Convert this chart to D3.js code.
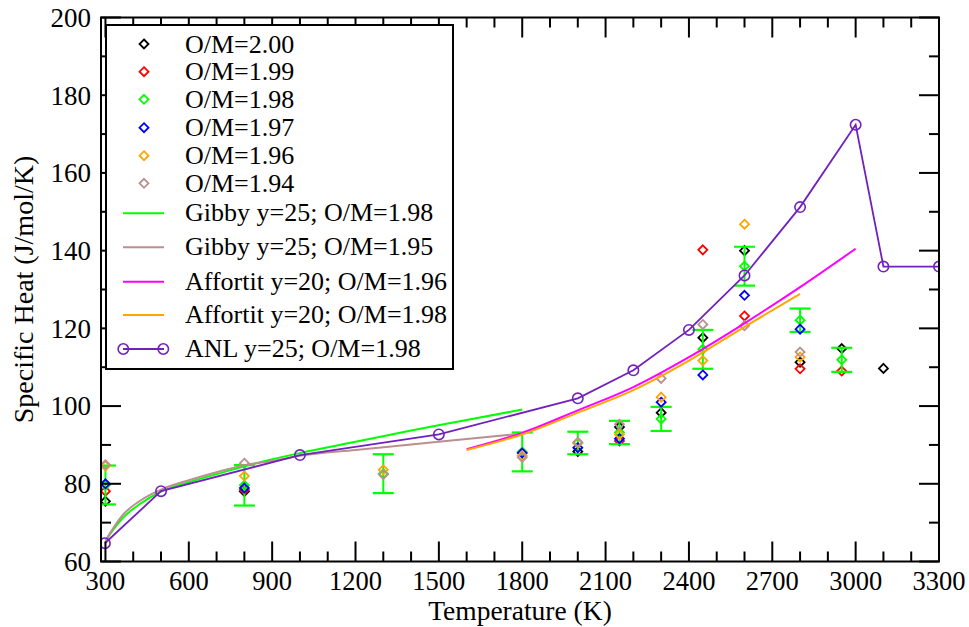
<!DOCTYPE html>
<html><head><meta charset="utf-8">
<script src="https://cdn.jsdelivr.net/npm/d3@7"></script>
<style>body{margin:0;background:#fff} svg{display:block}</style>
</head><body>
<svg id="chart" width="969" height="627"></svg>
<script>
// ---- data ----
const temps = [300, 800, 1300, 1800, 2000, 2150, 2300, 2450, 2600, 2800, 2950, 3100];
const om200 = [75.5, 78.0, null, null, 88.3, 94.6, 98.3, 117.6, 140.0, 111.3, 114.8, 109.7];
const om199 = [78.1, 78.4, null, null, null, 91.0, null, 140.2, 123.2, 109.6, 109.0, null];
const om198 = [79.7, 79.6, 82.6, 88.2, 90.5, 93.2, 96.7, 114.6, 136.0, 122.1, 111.9, null];
const om198Err = [5.0, 5.2, 5.0, 5.0, 2.9, 3.0, 3.1, 5.0, 5.0, 3.0, 3.1, null];
const om197 = [80.0, 78.9, null, 87.9, 89.3, 91.6, 101.0, 108.0, 128.5, 119.8, null, null];
const om196 = [84.6, 82.0, 83.6, 87.2, 90.5, 92.7, 102.3, 111.7, 146.8, 112.6, null, null];
const om194 = [84.9, 85.3, 82.4, 86.8, 90.7, 95.3, 107.1, 121.0, 120.7, 113.9, null, null];

const gibby198T = [300, 364, 426, 500, 609, 726, 800, 894, 1000, 1200, 1400, 1600, 1800];
const gibby198V = [65.4, 71.3, 74.9, 78.0, 80.6, 83.0, 84.5, 86.2, 87.9, 90.8, 93.7, 96.4, 99.1];
const gibby195T = [300, 364, 426, 500, 609, 726, 800, 894, 1000, 1200, 1400, 1600, 1800];
const gibby195V = [65.4, 72.1, 75.7, 78.5, 81.1, 83.5, 84.8, 85.8, 87.2, 88.7, 90.1, 91.5, 92.9];
const affortit196T = [1600, 1800, 2000, 2200, 2400, 2600, 2800, 3000];
const affortit196V = [88.9, 93.1, 98.9, 104.9, 112.6, 121.3, 130.6, 140.5];
const affortit198T = [1600, 1800, 2000, 2200, 2400, 2600, 2800];
const affortit198V = [88.7, 92.7, 98.3, 104.1, 111.7, 120.4, 128.9];
const anlT = [298, 500, 1000, 1500, 2000, 2200, 2400, 2600, 2800, 3000, 3100, 3300];
const anlV = [64.7, 78.1, 87.4, 92.7, 102.0, 109.2, 119.6, 133.6, 151.2, 172.4, 135.9, 135.9];

const xMajorTicks = [300, 600, 900, 1200, 1500, 1800, 2100, 2400, 2700, 3000, 3300];
const yMajorTicks = [60, 80, 100, 120, 140, 160, 180, 200];

const scatterSeries = [
  {name: "O/M=2.00", vals: om200, color: "#000000"},
  {name: "O/M=1.99", vals: om199, color: "#ff0000"},
  {name: "O/M=1.98", vals: om198, color: "#00ff00", err: om198Err},
  {name: "O/M=1.97", vals: om197, color: "#0000ff"},
  {name: "O/M=1.96", vals: om196, color: "#ffa500"},
  {name: "O/M=1.94", vals: om194, color: "#bc8f8f"}
];
const lineSeries = [
  {name: "Gibby y=25; O/M=1.98", t: gibby198T, v: gibby198V, color: "#00ff00"},
  {name: "Gibby y=25; O/M=1.95", t: gibby195T, v: gibby195V, color: "#bc8f8f"},
  {name: "Affortit y=20; O/M=1.96", t: affortit196T, v: affortit196V, color: "#ff00ff"},
  {name: "Affortit y=20; O/M=1.98", t: affortit198T, v: affortit198V, color: "#ffa500"},
  {name: "ANL y=25; O/M=1.98", t: anlT, v: anlV, color: "#7221bc", circles: true}
];

// ---- layout ----
const FONT = "'Liberation Serif','Times New Roman',Times,serif";
const L = 101, R = 939, T = 17.5, B = 561.5;
const x = d3.scaleLinear().domain([284, 3300]).range([L, R]);
const y = d3.scaleLinear().domain([60, 200]).range([B, T]);

const svg = d3.select("#chart");
svg.append("rect").attr("width", 969).attr("height", 627).attr("fill", "#fff");

svg.append("clipPath").attr("id", "plotclip")
  .append("rect").attr("x", L).attr("y", T).attr("width", R - L).attr("height", B - T);

const plot = svg.append("g").attr("clip-path", "url(#plotclip)");

function diamond(g, cx, cy, color, s) {
  g.append("path")
    .attr("d", `M${cx},${cy - s}L${cx + s},${cy}L${cx},${cy + s}L${cx - s},${cy}Z`)
    .attr("fill", "none").attr("stroke", color).attr("stroke-width", 1.8);
}

// scatter series
scatterSeries.forEach(s => {
  const g = plot.append("g");
  temps.forEach((t, i) => {
    const v = s.vals[i];
    if (v == null) return;
    if (s.err && s.err[i] != null) {
      const e = s.err[i];
      const cx = x(t), y1 = y(v + e), y2 = y(v - e);
      g.append("line").attr("x1", cx).attr("x2", cx).attr("y1", y1).attr("y2", y2)
        .attr("stroke", s.color).attr("stroke-width", 2);
      [y1, y2].forEach(yy => g.append("line").attr("x1", cx - 10.5).attr("x2", cx + 10.5)
        .attr("y1", yy).attr("y2", yy).attr("stroke", s.color).attr("stroke-width", 2.2));
    }
    diamond(g, x(t), y(v), s.color, 4.5);
  });
});

// line series
lineSeries.forEach(s => {
  const pts = s.t.map((t, i) => [t, s.v[i]]);
  const line = d3.line().x(d => x(d[0])).y(d => y(d[1]))
    .curve(s.circles ? d3.curveLinear : d3.curveMonotoneX);
  plot.append("path").attr("d", line(pts)).attr("fill", "none")
    .attr("stroke", s.color).attr("stroke-width", s.circles ? 1.8 : 2);
  if (s.circles) {
    pts.forEach(d => plot.append("circle").attr("cx", x(d[0])).attr("cy", y(d[1])).attr("r", 5.2)
      .attr("fill", "none").attr("stroke", s.color).attr("stroke-width", 1.6));
  }
});

// ---- axes frame & ticks ----
const axes = svg.append("g").attr("stroke", "#000").attr("stroke-width", 2);
const xMinor = d3.range(400, 3300, 100).filter(v => !xMajorTicks.includes(v));
const yMinor = d3.range(70, 200, 20);
xMajorTicks.forEach(t => {
  axes.append("line").attr("x1", x(t)).attr("x2", x(t)).attr("y1", B).attr("y2", B - 20);
  axes.append("line").attr("x1", x(t)).attr("x2", x(t)).attr("y1", T).attr("y2", T + 20);
});
xMinor.forEach(t => {
  axes.append("line").attr("x1", x(t)).attr("x2", x(t)).attr("y1", B).attr("y2", B - 10);
  axes.append("line").attr("x1", x(t)).attr("x2", x(t)).attr("y1", T).attr("y2", T + 10);
});
yMajorTicks.forEach(v => {
  axes.append("line").attr("x1", L).attr("x2", L + 20).attr("y1", y(v)).attr("y2", y(v));
  axes.append("line").attr("x1", R).attr("x2", R - 20).attr("y1", y(v)).attr("y2", y(v));
});
yMinor.forEach(v => {
  axes.append("line").attr("x1", L).attr("x2", L + 10).attr("y1", y(v)).attr("y2", y(v));
  axes.append("line").attr("x1", R).attr("x2", R - 10).attr("y1", y(v)).attr("y2", y(v));
});
axes.append("rect").attr("x", L).attr("y", T).attr("width", R - L).attr("height", B - T)
  .attr("fill", "none");

// tick labels
const lab = svg.append("g").attr("font-family", FONT).attr("fill", "#000");
xMajorTicks.forEach(t => lab.append("text").attr("x", x(t)).attr("y", 589.5)
  .attr("font-size", 26.5).attr("text-anchor", "middle").text(t));
yMajorTicks.forEach(v => lab.append("text").attr("x", 91).attr("y", y(v) + 9.3)
  .attr("font-size", 27).attr("text-anchor", "end").text(v));

// axis titles
svg.append("text").attr("x", (L + R) / 2).attr("y", 620).attr("text-anchor", "middle")
  .attr("font-family", FONT).attr("font-size", 27.5).text("Temperature (K)");
svg.append("text").attr("transform", `translate(33,${(T + B) / 2}) rotate(-90)`)
  .attr("text-anchor", "middle").attr("font-family", FONT).attr("font-size", 28)
  .text("Specific Heat (J/mol/K)");

// ---- legend ----
const leg = svg.append("g");
leg.append("rect").attr("x", 106).attr("y", 25).attr("width", 347).attr("height", 344)
  .attr("fill", "#fff").attr("stroke", "#000").attr("stroke-width", 2);
const scatterRows = [44, 71.7, 99.3, 127.7, 155.7, 183.3];
const lineRows = [213.3, 247.3, 281.7, 315, 349];
scatterSeries.forEach((s, i) => {
  const yy = scatterRows[i];
  diamond(leg, 144, yy, s.color, 4.5);
  leg.append("text").attr("x", 185).attr("y", yy + 8.5).attr("font-family", FONT)
    .attr("font-size", 26).text(s.name);
});
lineSeries.forEach((s, i) => {
  const yy = lineRows[i];
  leg.append("line").attr("x1", 123).attr("x2", 164).attr("y1", yy).attr("y2", yy)
    .attr("stroke", s.color).attr("stroke-width", 2);
  if (s.circles) {
    [123.3, 163.3].forEach(cx => leg.append("circle").attr("cx", cx).attr("cy", yy).attr("r", 5.2)
      .attr("fill", "none").attr("stroke", s.color).attr("stroke-width", 1.6));
  }
  leg.append("text").attr("x", 185).attr("y", yy + 8).attr("font-family", FONT)
    .attr("font-size", 26).text(s.name);
});
</script>
</body></html>
